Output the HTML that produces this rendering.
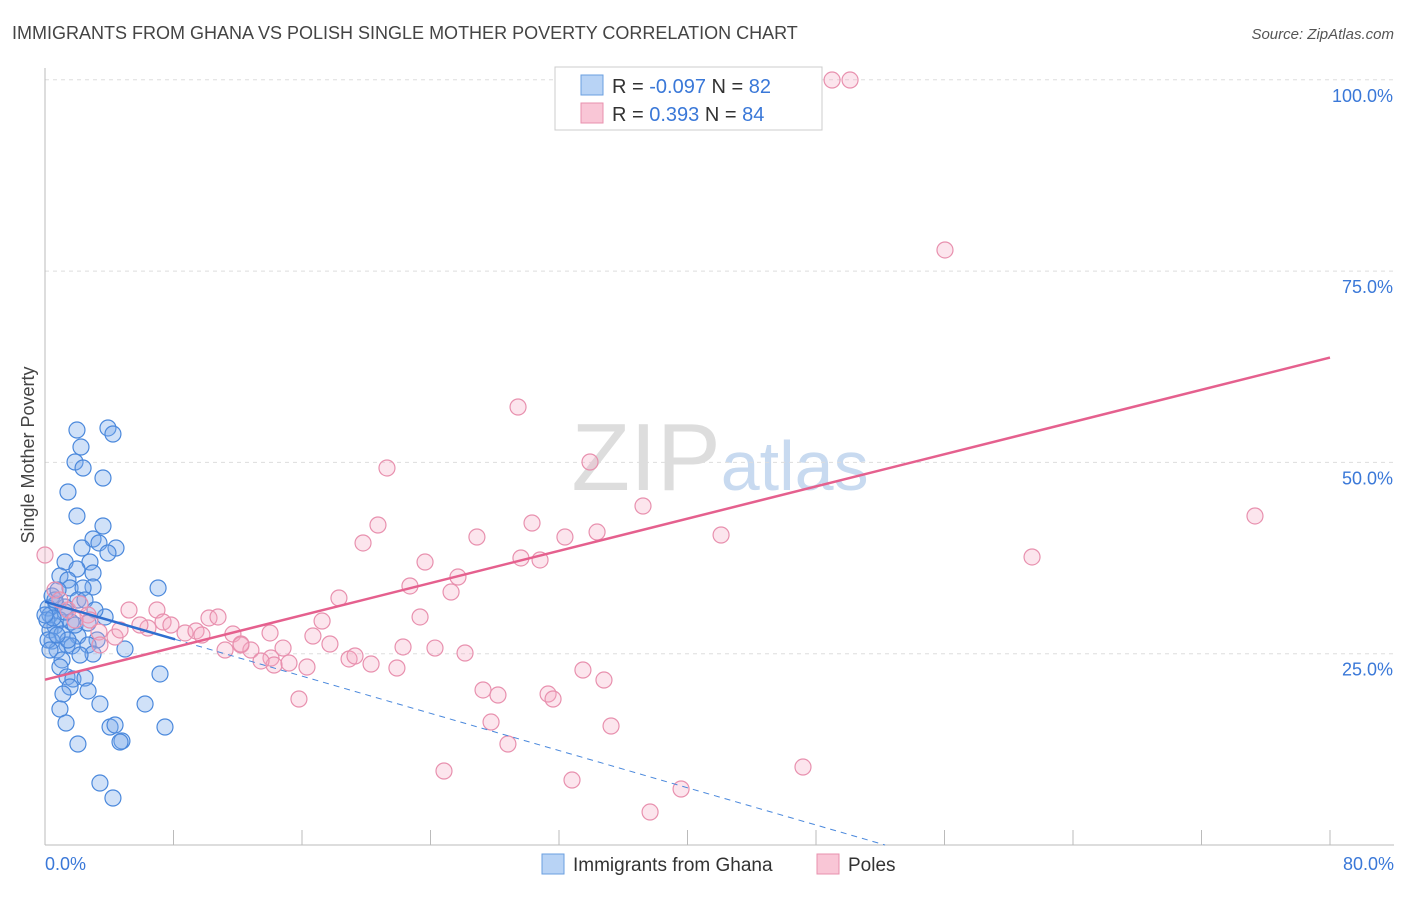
<!DOCTYPE html>
<html><head><meta charset="utf-8"><style>
body{margin:0;background:#fff;font-family:"Liberation Sans",sans-serif}
svg text{font-family:"Liberation Sans",sans-serif}
</style></head><body>
<svg id="chart" width="1406" height="892" xmlns="http://www.w3.org/2000/svg">
<text x="12" y="39" font-size="18" fill="#444">IMMIGRANTS FROM GHANA VS POLISH SINGLE MOTHER POVERTY CORRELATION CHART</text>
<text x="1394" y="39" font-size="15" fill="#555" font-style="italic" text-anchor="end">Source: ZipAtlas.com</text>
<text transform="translate(34,455) rotate(-90)" font-size="18" fill="#444" text-anchor="middle">Single Mother Poverty</text>
<text x="720" y="490" font-size="96" text-anchor="middle" fill="#ddd" font-family="Liberation Serif"><tspan>ZIP</tspan><tspan fill="#c8daf0" font-family="Liberation Sans" font-size="70">atlas</tspan></text>
<g id="grid"></g><g id="axes"></g><g id="pts"></g><g id="lines"></g>
<g>
<rect x="555" y="67" width="267" height="63" fill="#fff" stroke="#ccc"/>
<rect x="581" y="75" width="22" height="20" fill="#b8d3f5" stroke="#6a9fe0"/>
<rect x="581" y="103" width="22" height="20" fill="#f9c6d6" stroke="#e890ae"/>
<text x="612" y="93" font-size="20" fill="#333">R = <tspan fill="#3a78d8">-0.097</tspan>   N = <tspan fill="#3a78d8">82</tspan></text>
<text x="612" y="121" font-size="20" fill="#333">R =   <tspan fill="#3a78d8">0.393</tspan>   N = <tspan fill="#3a78d8">84</tspan></text>
</g>
<g>
<rect x="542" y="854" width="22" height="20" fill="#b8d3f5" stroke="#6a9fe0"/>
<text x="573" y="871" font-size="19" fill="#333">Immigrants from Ghana</text>
<rect x="817" y="854" width="22" height="20" fill="#f9c6d6" stroke="#e890ae"/>
<text x="848" y="871" font-size="19" fill="#333">Poles</text>
</g>
</svg>
<script>
const yTicks=[25,50,75,100];
const yTickLabels=["25.0%","50.0%","75.0%","100.0%"];
const xEndLabels=["0.0%","80.0%"];
const ghanaPx=[[77,430],[108,428],[113,434],[81,447],[75,462],[83,468],[68,492],[103,478],[77,516],[103,526],[93,539],[116,548],[99,543],[108,553],[82,548],[65,562],[90,562],[77,569],[60,576],[68,580],[93,573],[70,588],[93,587],[83,588],[158,588],[52,596],[78,600],[56,604],[65,607],[48,608],[50,615],[105,617],[60,620],[71,622],[55,626],[50,630],[62,634],[78,636],[97,640],[52,641],[67,645],[88,645],[125,649],[93,654],[57,650],[72,646],[62,660],[60,667],[160,674],[67,677],[73,679],[85,678],[70,687],[63,694],[88,691],[145,704],[100,704],[60,709],[66,723],[110,727],[115,725],[165,727],[122,741],[78,744],[120,742],[100,783],[113,798],[48,640],[55,600],[75,625],[47,620],[85,600],[95,610],[58,590],[50,650],[65,612],[68,640],[53,618],[80,655],[57,635],[88,623],[45,615]];
const polesPx=[[850,80],[832,80],[945,250],[518,407],[387,468],[590,462],[643,506],[1255,516],[532,523],[378,525],[477,537],[597,532],[565,537],[721,535],[363,543],[521,558],[540,560],[1032,557],[425,562],[458,577],[410,586],[451,592],[339,598],[420,617],[322,621],[129,610],[157,610],[209,618],[218,617],[148,628],[163,622],[171,625],[185,633],[196,631],[202,635],[233,634],[270,633],[313,636],[330,644],[241,645],[251,650],[283,648],[403,647],[435,648],[465,653],[349,659],[355,656],[271,658],[274,665],[289,663],[261,661],[307,667],[371,664],[397,668],[241,644],[225,650],[299,699],[483,690],[498,695],[548,694],[553,699],[583,670],[604,680],[491,722],[611,726],[508,744],[444,771],[572,780],[681,789],[650,812],[803,767],[99,632],[115,637],[68,610],[80,604],[88,615],[45,555],[55,590],[90,620],[120,630],[140,625],[60,600],[75,620],[100,645]];
// data values (x %, y %)
const ghanaX=ghanaPx.map(p=>+((p[0]-45)/16.0625).toFixed(2));
const ghanaY=ghanaPx.map(p=>+((845-p[1])/7.652).toFixed(2));
const polesX=polesPx.map(p=>+((p[0]-45)/16.0625).toFixed(2));
const polesY=polesPx.map(p=>+((845-p[1])/7.652).toFixed(2));
const ghanaTrend=[31.8,0];  // y at x=0, and x-intercept 52.3
const ghanaTrendX=[0,52.3];
const polesTrend=[21.6,63.7];
const polesTrendX=[0,80];

const NS="http://www.w3.org/2000/svg";
const sx=v=>45+v*16.0625, sy=v=>845-v*7.652;
function mk(tag,attrs,parent){const e=document.createElementNS(NS,tag);for(const k in attrs)e.setAttribute(k,attrs[k]);document.getElementById(parent).appendChild(e);return e;}
yTicks.forEach((t,i)=>{
 const l=mk('line',{x1:45,x2:1394,y1:sy(t),y2:sy(t),stroke:'#ddd','stroke-dasharray':'4,4'},'grid');
 
 
 const tx=mk('text',{x:1393,y:sy(t)+22,'font-size':18,fill:'#3a78d8','text-anchor':'end'},'axes');
 tx.textContent=yTickLabels[i];
 
 
});
const ax=mk('line',{x1:45,x2:45,y1:68,y2:845,stroke:'#bbb'},'axes');


const bx=mk('line',{x1:45,x2:1394,y1:845,y2:845,stroke:'#bbb'},'axes');


for(let i=1;i<=10;i++){const v=i*8;const t=mk('line',{x1:sx(v),x2:sx(v),y1:830,y2:845,stroke:'#bbb'},'axes');
 
 }
[[0,'start',45],[80,'end',1394]].forEach((d,i)=>{const t=mk('text',{x:d[2],y:870,'font-size':18,fill:'#3a78d8','text-anchor':d[1]},'axes');t.textContent=xEndLabels[i];
 
 });
ghanaX.forEach((x,i)=>{const c=mk('circle',{cx:sx(x),cy:sy(ghanaY[i]),r:8,fill:'rgba(120,170,235,0.35)',stroke:'#4a88dc','stroke-width':1.2},'pts');
 
 });
polesX.forEach((x,i)=>{const c=mk('circle',{cx:sx(x),cy:sy(polesY[i]),r:8,fill:'rgba(245,170,195,0.3)',stroke:'#e890ae','stroke-width':1.2},'pts');
 
 });
const gy=x=>ghanaTrend[0]+(ghanaTrend[1]-ghanaTrend[0])*(x-ghanaTrendX[0])/(ghanaTrendX[1]-ghanaTrendX[0]);
const l1=mk('line',{x1:sx(0),y1:sy(gy(0)),x2:sx(8.1),y2:sy(gy(8.1)),stroke:'#2f6fd0','stroke-width':2.5},'lines');


const l2=mk('line',{x1:sx(8.1),y1:sy(gy(8.1)),x2:sx(ghanaTrendX[1]),y2:sy(gy(ghanaTrendX[1])),stroke:'#4a88dc','stroke-width':1,'stroke-dasharray':'6,5'},'lines');


const l3=mk('line',{x1:sx(polesTrendX[0]),y1:sy(polesTrend[0]),x2:sx(polesTrendX[1]),y2:sy(polesTrend[1]),stroke:'#e5608e','stroke-width':2.5},'lines');


</script>
</body></html>
